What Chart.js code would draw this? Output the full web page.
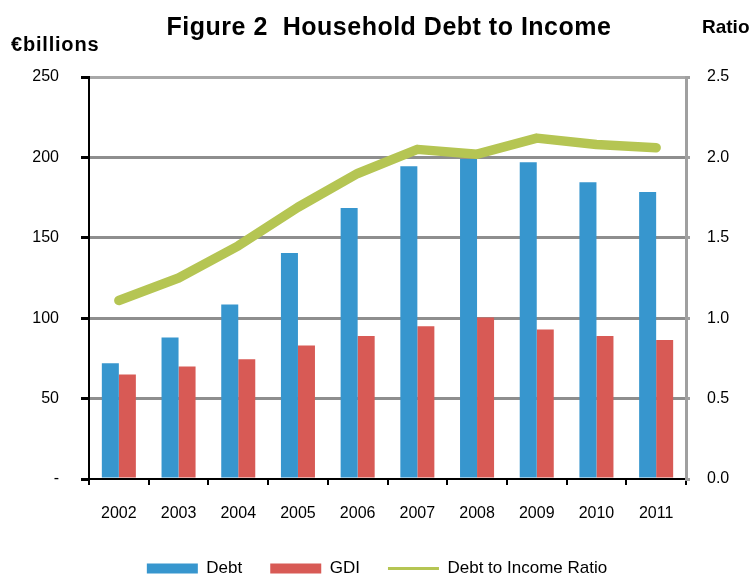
<!DOCTYPE html>
<html>
<head>
<meta charset="utf-8">
<script src="https://cdn.jsdelivr.net/npm/chart.js@4/dist/chart.umd.min.js"></script>
<style>
  html, body { margin: 0; padding: 0; background: #fff; }
  #wrap { width: 754px; height: 574px; position: relative; }
</style>
</head>
<body>
<div id="wrap"><canvas id="chart"></canvas></div>
<script>
// datos
const years = ['2002', '2003', '2004', '2005', '2006', '2007', '2008', '2009', '2010', '2011'];
const debt = [72, 88, 108.5, 140.5, 168.5, 194.5, 199, 197, 184.5, 178.5];
const gdi = [65, 70, 74.5, 83, 89, 95, 100.5, 93, 89, 86.5];
const debtToIncome = [1.11, 1.25, 1.45, 1.69, 1.90, 2.05, 2.02, 2.12, 2.08, 2.06];
const leftTicks = [0, 50, 100, 150, 200, 250];
const rightTicks = [0, 0.5, 1.0, 1.5, 2.0, 2.5];

const BLUE = '#3796ce';
const RED = '#d85a55';
const GREEN = '#b5c553';
const GRID = '#8e8e8e';
const FONT = '"Liberation Sans", Arial, sans-serif';

// textos fijos: título y unidades de los ejes
const headerText = {
    id: 'headerText',
    afterDraw(chart) {
        const ctx = chart.ctx;
        ctx.save();
        ctx.fillStyle = '#000';
        ctx.textBaseline = 'middle';
        ctx.font = 'bold 25px ' + FONT;
        ctx.letterSpacing = '0.5px';
        ctx.textAlign = 'center';
        ctx.fillText('Figure 2  Household Debt to Income', 389, 28);
        ctx.font = 'bold 20px ' + FONT;
        ctx.letterSpacing = '0.8px';
        ctx.textAlign = 'left';
        ctx.fillText('€billions', 11, 45);
        ctx.letterSpacing = '0px';
        ctx.font = 'bold 19px ' + FONT;
        ctx.fillText('Ratio', 702, 28);
        ctx.restore();
    }
};

new Chart(document.getElementById('chart'), {
    type: 'bar',
    data: {
        labels: years,
        datasets: [
            {
                label: 'Debt',
                data: debt,
                backgroundColor: BLUE,
                yAxisID: 'y',
                order: 2,
                categoryPercentage: 0.57,
                barPercentage: 1.0
            },
            {
                label: 'GDI',
                data: gdi,
                backgroundColor: RED,
                yAxisID: 'y',
                order: 2,
                categoryPercentage: 0.57,
                barPercentage: 1.0
            },
            {
                type: 'line',
                label: 'Debt to Income Ratio',
                data: debtToIncome,
                borderColor: GREEN,
                backgroundColor: GREEN,
                borderWidth: 9.5,
                borderCapStyle: 'round',
                borderJoinStyle: 'round',
                pointRadius: 0,
                tension: 0,
                yAxisID: 'y1',
                order: 1
            }
        ]
    },
    options: {
        responsive: true,
        maintainAspectRatio: false,
        animation: false,
        layout: { padding: { top: 77, left: 0, right: 0, bottom: 0 } },
        plugins: {
            title: { display: false },
            tooltip: { enabled: false },
            legend: {
                position: 'bottom',
                maxHeight: 42,
                labels: {
                    usePointStyle: true,
                    pointStyleWidth: 51,
                    boxHeight: 10,
                    padding: 28,
                    color: '#000',
                    font: { family: FONT, size: 17 },
                    sort: (a, b) => a.datasetIndex - b.datasetIndex,
                    generateLabels: (chart) => chart.data.datasets.map((ds, i) => ({
                        text: ds.label,
                        datasetIndex: i,
                        fillStyle: ds.type === 'line' ? GREEN : ds.backgroundColor,
                        strokeStyle: ds.type === 'line' ? GREEN : ds.backgroundColor,
                        lineWidth: ds.type === 'line' ? 3 : 0,
                        pointStyle: ds.type === 'line' ? 'line' : 'rect',
                        hidden: false
                    }))
                }
            }
        },
        scales: {
            x: {
                offset: true,
                afterFit: (scale) => { scale.height = 53; },
                grid: {
                    offset: true,
                    drawOnChartArea: false,
                    color: '#000',
                    tickColor: '#000',
                    tickLength: 6,
                    lineWidth: 2
                },
                border: { color: '#000', width: 2 },
                ticks: {
                    color: '#000',
                    padding: 19,
                    font: { family: FONT, size: 16 }
                }
            },
            y: {
                position: 'left',
                min: 0,
                max: 250,
                afterBuildTicks: (scale) => { scale.ticks = leftTicks.map(v => ({ value: v })); },
                afterFit: (scale) => { scale.width = 89; },
                grid: {
                    color: (c) => c.tick && c.tick.value === 0 ? 'rgba(0,0,0,0)' : (c.tick && c.tick.value === 250 ? '#a8a8a8' : GRID),
                    tickColor: '#000',
                    tickLength: 8,
                    lineWidth: 3
                },
                border: { color: '#000', width: 2 },
                ticks: {
                    color: '#000',
                    padding: 22,
                    font: { family: FONT, size: 16 },
                    callback: (v) => v === 0 ? '-' : String(v)
                }
            },
            y1: {
                position: 'right',
                min: 0,
                max: 2.5,
                afterBuildTicks: (scale) => { scale.ticks = rightTicks.map(v => ({ value: v })); },
                afterFit: (scale) => { scale.width = 68; },
                grid: {
                    drawOnChartArea: false,
                    color: '#a0a0a0',
                    tickColor: '#a0a0a0',
                    tickLength: 4,
                    lineWidth: 3
                },
                border: { color: '#a0a0a0', width: 3 },
                ticks: {
                    color: '#000',
                    padding: 17,
                    font: { family: FONT, size: 16 },
                    callback: (v) => Number(v).toFixed(1)
                }
            }
        }
    },
    plugins: [headerText]
});
</script>
</body>
</html>
